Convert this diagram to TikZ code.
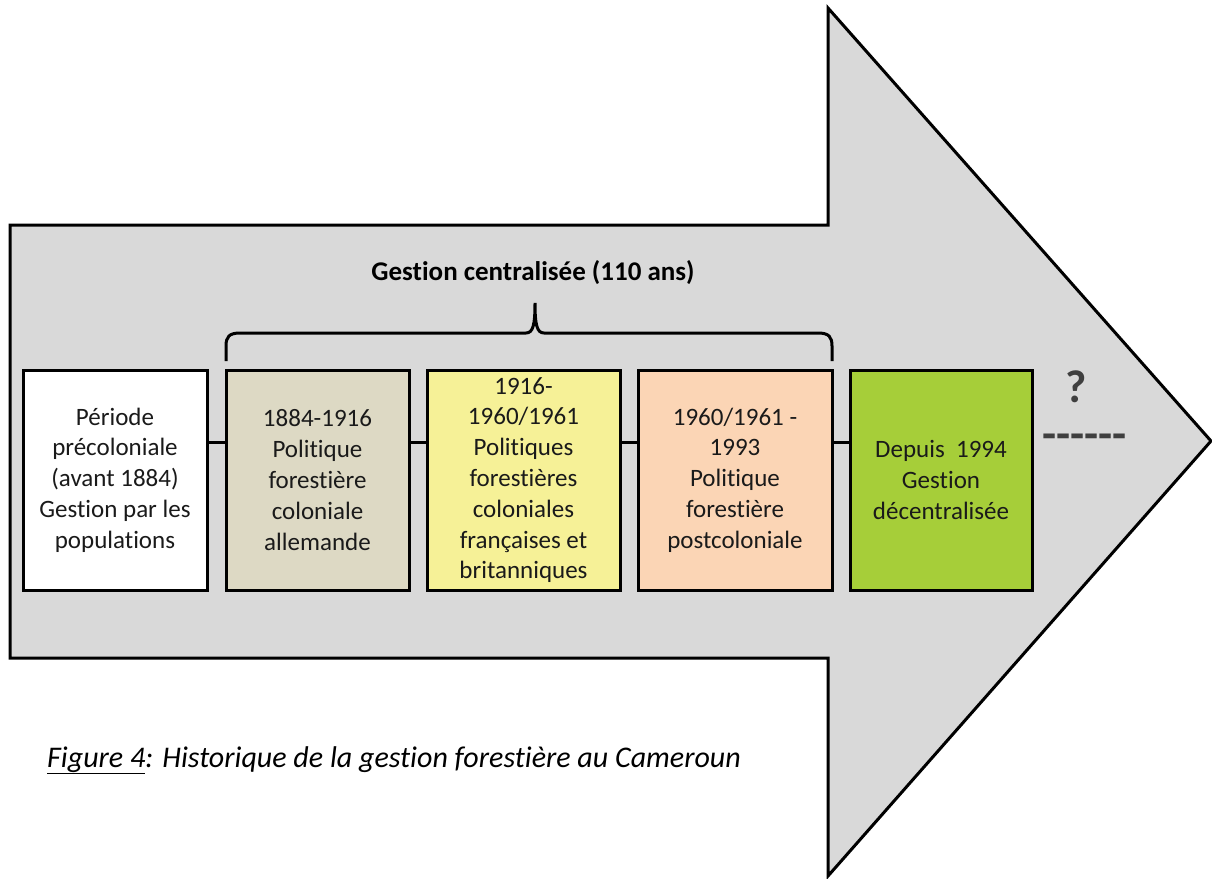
\documentclass[tikz,border=0pt]{standalone}
\usepackage{fontspec}
\setmainfont{Carlito}[Ligatures={TeX,NoCommon}]
\begin{document}
\begin{tikzpicture}[x=1pt,y=-1pt,
  arrowshape/.style={draw=black,fill=arrowgray,line width=3pt,line join=miter},
  periodbox/.style={draw=black,line width=3pt,minimum height=220pt,inner sep=0pt,align=center,text=textdark,font=\fontsize{25}{30.8}\selectfont},
  link/.style={draw=black,line width=3pt},
  bracket/.style={draw=black,line width=3pt},
  bigmark/.style={text=markgray,font=\bfseries\fontsize{46}{50}\selectfont,inner sep=0pt,anchor=base west}
]
\definecolor{arrowgray}{HTML}{D9D9D9}
\definecolor{textdark}{HTML}{1A1A1A}
\definecolor{markgray}{HTML}{3F3F3F}
\definecolor{tanfill}{HTML}{DDD9C4}
\definecolor{yellowfill}{HTML}{F6F197}
\definecolor{peachfill}{HTML}{FBD5B5}
\definecolor{greenfill}{HTML}{A6CE39}
\useasboundingbox (0,0) rectangle (1212,878);
\fill[white] (0,0) rectangle (1212,878);
% big arrow
\draw[arrowshape] (10,225) -- (828,225) -- (828,8) -- (1211,441) -- (828,876) -- (828,658) -- (10,658) -- cycle;
% boxes
\node[periodbox,fill=white,minimum width=184pt] (b1) at (115,480) {Période\\précoloniale\\(avant 1884)\\Gestion par les\\populations};
\node[periodbox,fill=tanfill,minimum width=183pt] (b2) at (317.5,480) {1884-1916\\Politique\\forestière\\coloniale\\allemande};
\node[periodbox,fill=yellowfill,minimum width=193pt] (b3) at (523.5,480) {1916-\\1960/1961\\Politiques\\forestières\\coloniales\\françaises et\\britanniques};
\node[periodbox,fill=peachfill,minimum width=194pt] (b4) at (735,480) {1960/1961 -\\1993\\Politique\\forestière\\postcoloniale};
\node[periodbox,fill=greenfill,minimum width=182pt] (b5) at (941,480) {Depuis~ 1994\\Gestion\\décentralisée};
% connectors
\draw[link] ([yshift=38pt]b1.east) -- ([yshift=38pt]b2.west);
\draw[link] ([yshift=38pt]b2.east) -- ([yshift=38pt]b3.west);
\draw[link] ([yshift=38pt]b3.east) -- ([yshift=38pt]b4.west);
\draw[link] ([yshift=38pt]b4.east) -- ([yshift=38pt]b5.west);
% brace
\draw[bracket] (226,361) -- (226,346) .. controls (226,337) and (229,333) .. (240,333) -- (526,333) .. controls (533,333) and (535,325) .. (535,303) .. controls (535,325) and (537,333) .. (544,333) -- (818,333) .. controls (829,333) and (832,337) .. (832,346) -- (832,361);
\node[font=\bfseries\fontsize{27}{32}\selectfont,text=black] (title) at (533,273) {Gestion centralisée (110 ans)};
% question mark and dashes
\node[bigmark,text depth=0pt] (qm) at (1065,402) {?};
\node[bigmark,text height=14pt,text depth=0pt] (dashes) at (1042,449) {-{}-{}-{}-{}-{}-};
% caption
\node[anchor=base west,inner sep=0pt,font=\itshape\fontsize{30}{34}\selectfont,text=black] (caption) at (47,767) {\underline{Figure 4}: Historique de la gestion forestière au Cameroun};
\end{tikzpicture}
\end{document}
